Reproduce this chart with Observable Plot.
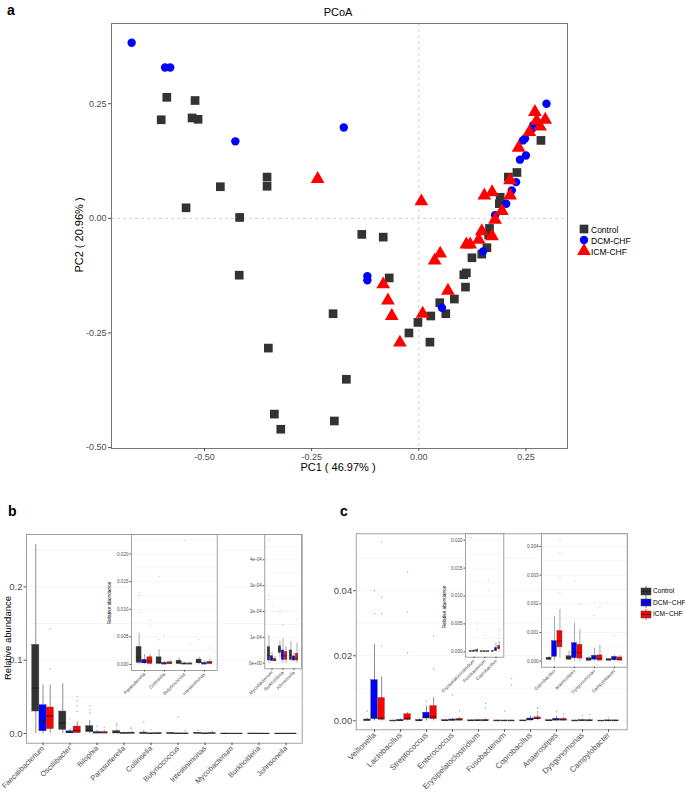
<!DOCTYPE html>
<html><head><meta charset="utf-8">
<script src="https://cdn.jsdelivr.net/npm/d3@7"></script>
<script src="https://cdn.jsdelivr.net/npm/@observablehq/plot@0.6"></script>
<style>
body{margin:0;background:#fff;font-family:"Liberation Sans",Arial,sans-serif;}
#fig{position:relative;width:685px;height:793px;overflow:hidden;background:#fff;}
.t{position:absolute;white-space:nowrap;color:#000;line-height:1;}
</style></head><body><div id="fig"></div>
<script>
// ---------- Panel a: PCoA ----------
const groupNames = ["Control", "DCM-CHF", "ICM-CHF"];
const controlPts = [[-0.588,0.264],[-0.522,0.257],[-0.601,0.215],[-0.529,0.219],[-0.515,0.216],[-0.463,0.069],[-0.354,0.09],[-0.354,0.07],[-0.543,0.023],[-0.418,0.002],[-0.133,-0.035],[-0.083,-0.041],[-0.419,-0.124],[-0.069,-0.130],[-0.2,-0.208],[-0.002,-0.227],[-0.023,-0.25],[-0.351,-0.283],[-0.169,-0.351],[-0.337,-0.427],[-0.197,-0.442],[-0.322,-0.46],[0.026,-0.27],[0.028,-0.213],[0.049,-0.184],[0.063,-0.208],[0.083,-0.176],[0.109,-0.15],[0.105,-0.123],[0.111,-0.119],[0.124,-0.086],[0.147,-0.078],[0.159,-0.064],[0.163,-0.036],[0.165,-0.022],[0.188,0.032],[0.19,0.046],[0.209,0.09],[0.229,0.1],[0.285,0.17]];
const dcmPts = [[-0.67,0.383],[-0.592,0.329],[-0.58,0.329],[-0.428,0.168],[-0.175,0.198],[-0.12,-0.126],[-0.12,-0.135],[0.054,-0.195],[0.15,-0.072],[0.178,0.007],[0.204,0.032],[0.217,0.061],[0.227,0.079],[0.236,0.128],[0.25,0.137],[0.243,0.17],[0.248,0.174],[0.264,0.195],[0.267,0.203],[0.298,0.25]];
const icmPts = [[-0.236,0.086],[0.006,0.037],[-0.083,-0.144],[-0.072,-0.179],[-0.063,-0.213],[-0.044,-0.271],[0.009,-0.208],[0.068,-0.158],[0.037,-0.092],[0.05,-0.077],[0.111,-0.057],[0.12,-0.057],[0.14,-0.047],[0.147,-0.028],[0.171,-0.039],[0.178,-0.003],[0.194,0.016],[0.153,0.05],[0.171,0.057],[0.213,0.05],[0.213,0.083],[0.233,0.154],[0.258,0.188],[0.283,0.2],[0.275,0.213],[0.295,0.215],[0.271,0.232]];
const pcoaXTicks = [-0.5, -0.25, 0, 0.25];
const pcoaYTicks = [-0.5, -0.25, 0, 0.25];

// ---------- Panel b: boxplots (summary: lo, q1, median, q3, hi) ----------
const bGenera = ["Faecalibacterium","Oscillibacter","Bilophia","Parasutterella","Collinsella","Butyricicoccus","Intestinimonas","Mycobacterium","Burkholderia","Johnsonella"];
const bInset1 = ["Parasutterella","Collinsella","Butyricicoccus","Intestinimonas"];
const bInset2 = ["Mycobacterium","Burkholderia","Johnsonella"];
const bControl = [[0,0.030,0.062,0.121,0.258],[0,0.005,0.014,0.030,0.068],[0,0.002,0.004,0.010,0.018],[0,0.0003,0.0012,0.0032,0.0057],[0,0.0001,0.0004,0.0013,0.0027],[0,0.0001,0.0003,0.0007,0.0012],[0,0.0002,0.0005,0.0009,0.0013],[0,0.00001,0.00003,0.000062,0.000107],[0.00002,0.000039,0.00005,0.000065,0.000085],[0.000005,0.000012,0.00003,0.000049,0.000083]];
const bDCM = [[0,0.003,0.0173,0.0387,0.066],[0,0.0008,0.0015,0.003,0.006],[0,0.0004,0.001,0.002,0.004],[0,0.0002,0.0004,0.00085,0.0018],[0,0.00002,0.0001,0.0003,0.0006],[0,0.00002,0.0001,0.0002,0.0004],[0,0.00002,0.0001,0.0003,0.0006],[0.000005,0.000008,0.000018,0.000027,0.00004],[0,0.000012,0.00003,0.000049,0.000094],[0.000005,0.00001,0.00002,0.000026,0.00004]];
const bICM = [[0,0.006,0.024,0.0355,0.066],[0,0.0005,0.004,0.0095,0.016],[0,0.0004,0.001,0.002,0.004],[0,0.0001,0.0006,0.0013,0.0019],[0,0.0001,0.0002,0.0004,0.0008],[0,0.00002,0.0001,0.0002,0.0004],[0,0.0001,0.0003,0.0005,0.001],[0.000005,0.000007,0.00001,0.000017,0.000025],[0,0.000012,0.000028,0.000043,0.000065],[0,0.00001,0.00002,0.000036,0.000077]];
const bOutliers = [["Faecalibacterium",2,0.143],["Faecalibacterium",2,0.088],["Oscillibacter",2,0.05],["Oscillibacter",2,0.045],["Oscillibacter",2,0.038],["Oscillibacter",2,0.03],["Oscillibacter",1,0.02],["Bilophia",0,0.038],["Bilophia",0,0.033],["Bilophia",0,0.028],["Bilophia",1,0.01],["Bilophia",2,0.008],["Parasutterella",0,0.013],["Parasutterella",0,0.0125],["Parasutterella",0,0.0095],["Parasutterella",2,0.008],["Parasutterella",2,0.007],["Collinsella",0,0.016],["Collinsella",0,0.0045],["Collinsella",1,0.0053],["Butyricicoccus",1,0.0225],["Butyricicoccus",2,0.0037],["Intestinimonas",0,0.0045],["Intestinimonas",2,0.003],["Mycobacterium",0,0.00048],["Mycobacterium",0,0.00026],["Mycobacterium",0,0.000245],["Mycobacterium",1,0.00022],["Burkholderia",0,0.0002],["Burkholderia",1,0.00015],["Johnsonella",2,0.00017]];
const bTicks = [0, 0.1, 0.2];
const bInset1Ticks = [0, 0.005, 0.01, 0.015, 0.02];
const bInset2Ticks = [0, 0.0001, 0.0002, 0.0003, 0.0004];

// ---------- Panel c ----------
const cGenera = ["Veillonella","Lactobacillus","Streptococcus","Enterococcus","Erysipelatoclostridium","Fusobacterium","Coprobacillus","Anaerostipes","Dysgonomonas","Campylobacter"];
const cInset1 = ["Erysipelatoclostridium","Fusobacterium","Coprobacillus"];
const cInset2 = ["Coprobacillus","Anaerostipes","Dysgonomonas","Campylobacter"];
const cControl = [[0,0.00005,0.0002,0.0004,0.0008],[0,0.00001,0.00003,0.00008,0.0002],[0,0.00002,0.00008,0.0003,0.0006],[0,0.00005,0.0001,0.0002,0.0004],[0,0.00003,0.00008,0.00015,0.0003],[0,0.00001,0.00004,0.0001,0.0002],[0.00002,0.00005,0.00008,0.00012,0.00018],[0.00002,0.00005,0.0001,0.00017,0.00035],[0.00001,0.00002,0.00004,0.0001,0.00015],[0.00001,0.00002,0.00004,0.00007,0.0001]];
const cDCM = [[0,0.0005,0.002,0.0125,0.0235],[0,0.00003,0.0001,0.0003,0.0006],[0,0.0007,0.0012,0.0025,0.0045],[0,0.0001,0.0002,0.0004,0.0008],[0,0.00003,0.0001,0.0002,0.0004],[0,0.00002,0.00005,0.0001,0.0002],[0,0.00015,0.00035,0.0007,0.00155],[0,0.0001,0.0003,0.00063,0.00133],[0,0.00005,0.00012,0.00019,0.00045],[0,0.00003,0.00008,0.00015,0.0002]];
const cICM = [[0,0.0003,0.0008,0.007,0.0135],[0,0.0002,0.0008,0.002,0.0025],[0,0.0005,0.0012,0.0045,0.0072],[0,0.0001,0.0003,0.0006,0.001],[0,0.00005,0.0001,0.0003,0.0006],[0,0.00002,0.00005,0.0001,0.0002],[0.0001,0.00048,0.0007,0.00105,0.0018],[0,0.00009,0.0003,0.00057,0.0011],[0,0.00002,0.0001,0.0002,0.00055],[0,0.00002,0.00006,0.00013,0.0002]];
const cOutliers = [["Veillonella",2,0.055],["Veillonella",2,0.038],["Veillonella",2,0.033],["Veillonella",2,0.023],["Veillonella",1,0.04],["Veillonella",1,0.033],["Veillonella",0,0.003],["Lactobacillus",2,0.0457],["Lactobacillus",2,0.0335],["Lactobacillus",2,0.021],["Streptococcus",2,0.026],["Streptococcus",2,0.016],["Streptococcus",1,0.006],["Enterococcus",1,0.008],["Enterococcus",2,0.003],["Erysipelatoclostridium",0,0.0205],["Erysipelatoclostridium",2,0.0053],["Erysipelatoclostridium",2,0.004],["Fusobacterium",2,0.013],["Fusobacterium",2,0.011],["Fusobacterium",1,0.003],["Coprobacillus",2,0.0042],["Coprobacillus",2,0.0038],["Coprobacillus",2,0.0029],["Coprobacillus",2,0.0024],["Anaerostipes",1,0.0028],["Anaerostipes",2,0.002],["Dysgonomonas",2,0.0019],["Dysgonomonas",1,0.0016],["Campylobacter",1,0.0009]];
const cTicks = [0, 0.02, 0.04];
const cInset1Ticks = [0, 0.005, 0.01, 0.015, 0.02];
const cInset2Ticks = [0, 0.001, 0.002, 0.003, 0.004];

// ---------- drawing ----------
const COLORS = ["#333333", "#0000ff", "#ff0000"];
const FONT = "'Liberation Sans', Arial, sans-serif";
const fig = document.getElementById("fig");
function put(el, left, top) {
  el.style.position = "absolute"; el.style.left = left + "px"; el.style.top = top + "px";
  fig.appendChild(el);
}
function label(text, x, y, o = {}) {
  const d = document.createElement("div");
  d.className = "t"; d.textContent = text;
  d.style.fontSize = (o.size || 11) + "px";
  if (o.bold) d.style.fontWeight = "bold";
  d.style.left = x + "px"; d.style.top = y + "px";
  const anchor = o.anchor || "center";
  const tx = anchor === "center" ? "-50%" : anchor === "end" ? "-100%" : "0";
  if (o.rotate) { d.style.transformOrigin = "0 0"; d.style.transform = `rotate(${o.rotate}deg) translate(-50%,-50%)`; }
  else if (o.corner) { d.style.transform = "none"; }
  else d.style.transform = `translate(${tx},-50%)`;
  fig.appendChild(d);
  return d;
}
const baseStyle = {background: "transparent", overflow: "visible", fontFamily: FONT, color: "#4d4d4d"};

// Panel a
const pa = Plot.plot({
  width: 685, height: 480,
  marginLeft: 111, marginRight: 118, marginTop: 23, marginBottom: 32,
  x: {domain: [-0.717, 0.347]},
  y: {domain: [-0.502, 0.425]},
  style: baseStyle,
  marks: [
    Plot.ruleX([0], {stroke: "#c8c8c8", strokeDasharray: "3,3", strokeWidth: 0.8}),
    Plot.ruleY([0], {stroke: "#c8c8c8", strokeDasharray: "3,3", strokeWidth: 0.8}),
    Plot.dot(controlPts, {x: d => d[0], y: d => d[1], symbol: "square", fill: COLORS[0], r: 4.9}),
    Plot.dot(dcmPts, {x: d => d[0], y: d => d[1], symbol: "circle", fill: COLORS[1], r: 4.2}),
    Plot.dot(icmPts, {x: d => d[0], y: d => d[1], symbol: "triangle", fill: COLORS[2], r: 5.1}),
    Plot.frame({stroke: "#777", strokeWidth: 1}),
    Plot.axisX({ticks: pcoaXTicks, tickFormat: d => d.toFixed(2), tickSize: 3, tickPadding: 2, fontSize: 9, label: null}),
    Plot.axisY({ticks: pcoaYTicks, tickFormat: d => d.toFixed(2), tickSize: 3, tickPadding: 2, fontSize: 9, label: null})
  ]
});
put(pa, 0, 0);
label("a", 7, 3, {size: 14, bold: true, corner: true});
label("PCoA", 338, 12, {size: 11});
label("PC1 ( 46.97% )", 338, 467, {size: 11});
label("PC2 ( 20.96% )", 79, 235, {size: 11, rotate: -90});

// legend a
(function legendA() {
  const ns = "http://www.w3.org/2000/svg";
  const syms = [d3.symbolSquare, d3.symbolCircle, d3.symbolTriangle];
  const rs = [4.9, 4.2, 5.1];
  groupNames.forEach((g, i) => {
    const s = document.createElementNS(ns, "svg");
    s.setAttribute("width", 14); s.setAttribute("height", 14);
    const p = document.createElementNS(ns, "path");
    p.setAttribute("d", d3.symbol(syms[i], Math.PI * rs[i] * rs[i])());
    p.setAttribute("transform", "translate(7,7)");
    p.setAttribute("fill", COLORS[i]);
    s.appendChild(p);
    put(s, 577, 222 + i * 11);
    label(g, 591, 229.5 + i * 11, {size: 8.5, anchor: "start"});
  });
})();

// box plot helper
function boxPanel(cfg) {
  const {genera, allGenera, stats, outliers, left, top, width, height, mL, mR, mT, mB,
         yDomain, yTicks, yFmt, grid, fontSize, xFontSize, tickSize, tickPadding, inset} = cfg;
  const rows = stats.map(arr => genera.map(g => {
    const s = arr[allGenera.indexOf(g)];
    return {genus: g, lo: s[0], q1: s[1], med: s[2], q3: s[3], hi: s[4]};
  }));
  const outs = outliers.filter(o => genera.includes(o[0]));
  const step = (width - mL - mR) / (genera.length + 0.2);
  const gw = 0.8 * step / 3;
  const marks = [];
  if (inset) marks.push(Plot.frame({fill: "white", stroke: "none"}));
  marks.push(Plot.ruleY(grid, {stroke: "#efefef", strokeWidth: 0.6}));
  rows.forEach((r, k) => {
    const il = 0.1 * step + k * gw, ir = step - 0.1 * step - (k + 1) * gw, dx = (k - 1) * gw;
    marks.push(Plot.dot(outs.filter(o => o[1] === k), {x: o => o[0], y: o => o[2], dx, r: inset ? 0.5 : 0.7, fill: "#a8a8a8", clip: true}));
    marks.push(Plot.ruleX(r, {x: "genus", y1: "lo", y2: "hi", dx, stroke: "#707070", strokeWidth: inset ? 0.6 : 0.8}));
    marks.push(Plot.barY(r, {x: "genus", y1: "q1", y2: "q3", fill: COLORS[k], stroke: "#4a4a4a", strokeWidth: 0.4, insetLeft: il, insetRight: ir}));
    marks.push(Plot.tickY(r, {x: "genus", y: "med", stroke: "#1a1a1a", strokeWidth: inset ? 0.6 : 0.9, insetLeft: il, insetRight: ir}));
  });
  marks.push(Plot.frame({stroke: "#8c8c8c", strokeWidth: 0.8}));
  marks.push(Plot.axisX({tickRotate: -45, tickSize, tickPadding, fontSize: xFontSize, label: null}));
  marks.push(Plot.axisY({ticks: yTicks, tickFormat: yFmt, tickSize, tickPadding, fontSize, label: null}));
  const p = Plot.plot({
    width, height, marginLeft: mL, marginRight: mR, marginTop: mT, marginBottom: mB,
    x: {type: "band", domain: genera, paddingInner: 0, paddingOuter: 0.1},
    y: {domain: yDomain},
    style: baseStyle, marks
  });
  put(p, left, top);
}
const f3 = d => d.toFixed(3);
const fe = d => d === 0 ? "0e+00" : Math.round(d / 1e-4) + "e-04";

// Panel b
const bStats = [bControl, bDCM, bICM];
boxPanel({genera: bGenera, allGenera: bGenera, stats: bStats, outliers: bOutliers,
  left: 0, top: 500, width: 340, height: 293, mL: 26, mR: 38.3, mT: 34, mB: 50.3,
  yDomain: [-0.0132, 0.2715], yTicks: bTicks, yFmt: d => d.toFixed(1), grid: [0, 0.05, 0.1, 0.15, 0.2, 0.25],
  fontSize: 9.5, xFontSize: 7.4, tickSize: 2.5, tickPadding: 1.5});
boxPanel({genera: bInset1, allGenera: bGenera, stats: bStats, outliers: bOutliers,
  left: 100, top: 530, width: 121, height: 175, mL: 31, mR: 4.3, mT: 4, mB: 35,
  yDomain: [-0.00109, 0.02355], yTicks: bInset1Ticks, yFmt: f3, grid: [0, 0.0025, 0.005, 0.0075, 0.01, 0.0125, 0.015, 0.0175, 0.02, 0.0225],
  fontSize: 4.6, xFontSize: 4.6, tickSize: 1.5, tickPadding: 1.5, inset: true});
boxPanel({genera: bInset2, allGenera: bGenera, stats: bStats, outliers: bOutliers,
  left: 238, top: 530, width: 66, height: 178, mL: 26.3, mR: 3, mT: 4, mB: 39.7,
  yDomain: [-0.000022, 0.000498], yTicks: bInset2Ticks, yFmt: fe, grid: [0, 0.00005, 0.0001, 0.00015, 0.0002, 0.00025, 0.0003, 0.00035, 0.0004, 0.00045],
  fontSize: 4.6, xFontSize: 4.6, tickSize: 1.5, tickPadding: 1.5, inset: true});
label("b", 8, 504, {size: 14, bold: true, corner: true});
label("Relative abundance", 8, 638, {size: 9.5, rotate: -90});
label("Relative abundance", 110, 603, {size: 4.8, rotate: -90});

// Panel c
const cStats = [cControl, cDCM, cICM];
boxPanel({genera: cGenera, allGenera: cGenera, stats: cStats, outliers: cOutliers,
  left: 330, top: 500, width: 302, height: 293, mL: 25.7, mR: 5.3, mT: 33.3, mB: 63.7,
  yDomain: [-0.00277, 0.0575], yTicks: cTicks, yFmt: d => d.toFixed(2), grid: [0, 0.01, 0.02, 0.03, 0.04, 0.05],
  fontSize: 9.5, xFontSize: 7.9, tickSize: 2.5, tickPadding: 1.5});
boxPanel({genera: cInset1, allGenera: cGenera, stats: cStats, outliers: cOutliers,
  left: 440, top: 529, width: 66.3, height: 171, mL: 25, mR: 3, mT: 4.3, mB: 43.3,
  yDomain: [-0.00097, 0.02115], yTicks: cInset1Ticks, yFmt: f3, grid: [0, 0.0025, 0.005, 0.0075, 0.01, 0.0125, 0.015, 0.0175, 0.02],
  fontSize: 4.6, xFontSize: 4.6, tickSize: 1.5, tickPadding: 1.5, inset: true});
boxPanel({genera: cInset2, allGenera: cGenera, stats: cStats, outliers: cOutliers,
  left: 515, top: 529, width: 114.7, height: 176, mL: 26, mR: 3, mT: 4.3, mB: 38.3,
  yDomain: [-0.00021, 0.00444], yTicks: cInset2Ticks, yFmt: f3, grid: [0, 0.0005, 0.001, 0.0015, 0.002, 0.0025, 0.003, 0.0035, 0.004],
  fontSize: 4.6, xFontSize: 4.6, tickSize: 1.5, tickPadding: 1.5, inset: true});
label("c", 340, 504, {size: 14, bold: true, corner: true});
label("Relative abundance", 445, 607, {size: 4.8, rotate: -90});

// legend c
(function legendC() {
  const ns = "http://www.w3.org/2000/svg";
  const names = ["Control", "DCM\u2212CHF", "ICM\u2212CHF"];
  names.forEach((g, i) => {
    const s = document.createElementNS(ns, "svg");
    s.setAttribute("width", 12); s.setAttribute("height", 11);
    s.innerHTML = `<line x1="6" x2="6" y1="0" y2="11" stroke="#555" stroke-width="0.8"/>` +
      `<rect x="1" y="2" width="10" height="7" fill="${COLORS[i]}" stroke="#444" stroke-width="0.5"/>` +
      `<line x1="1" x2="11" y1="5.5" y2="5.5" stroke="#1a1a1a" stroke-width="0.8"/>`;
    put(s, 639.5, 585.5 + i * 11.7);
    label(g, 653, 591 + i * 11.7, {size: 6.6, anchor: "start"});
  });
})();
</script></body></html>
